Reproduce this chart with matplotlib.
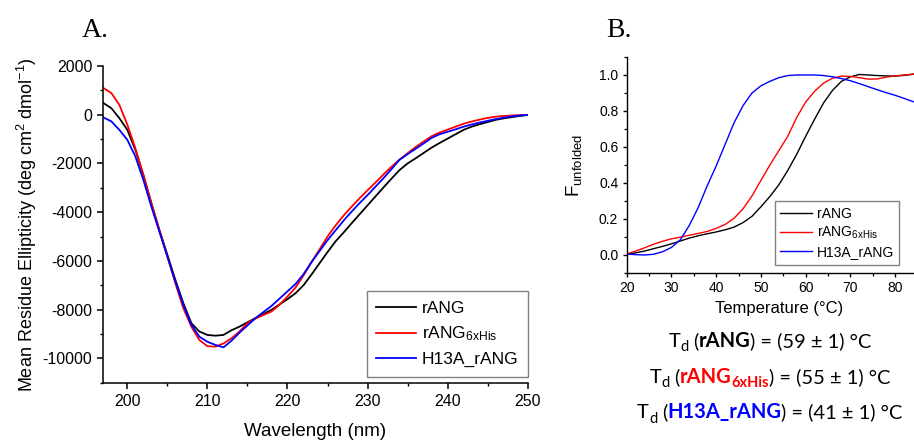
import matplotlib
matplotlib.use('Agg')
import matplotlib.pyplot as plt
from matplotlib.ticker import MultipleLocator, FormatStrFormatter

# ---- data: panel A, far-UV CD spectra ----
wavelength = list(range(197, 251))
mre_rang = [480, 270, -140, -620, -1440, -2470, -3630, -4730, -5750, -6780,
            -7740, -8560, -8900, -9040, -9070, -9040, -8850, -8700, -8520, -8350,
            -8180, -8010, -7790, -7570, -7330, -7000, -6560, -6100, -5640, -5200,
            -4840, -4460, -4090, -3720, -3350, -2980, -2620, -2270, -2000, -1790,
            -1570, -1350, -1160, -980, -800, -620, -490, -390, -300, -210,
            -150, -100, -50, -10]
mre_his = [1100, 890, 410, -410, -1370, -2470, -3630, -4730, -5820, -6920,
           -7950, -8700, -9250, -9500, -9520, -9390, -9180, -8900, -8550, -8370,
           -8220, -8080, -7800, -7460, -7100, -6600, -6050, -5530, -5000, -4550,
           -4140, -3780, -3430, -3100, -2780, -2450, -2130, -1840, -1580, -1330,
           -1100, -880, -730, -610, -490, -370, -280, -200, -130, -80,
           -50, -30, -15, -5]
mre_h13a = [-110, -270, -620, -1030, -1710, -2670, -3770, -4800, -5820, -6850,
            -7810, -8630, -9110, -9320, -9450, -9550, -9280, -8950, -8650, -8350,
            -8100, -7850, -7550, -7250, -6950, -6550, -6050, -5600, -5150, -4750,
            -4350, -3980, -3630, -3300, -2950, -2600, -2230, -1850, -1620, -1400,
            -1180, -950, -800, -700, -600, -490, -400, -320, -250, -180,
            -120, -70, -30, -10]

# ---- data: panel B, thermal unfolding ----
temperature = list(range(20, 88, 2))
f_rang = [0.005, 0.012, 0.022, 0.035, 0.048, 0.062, 0.078, 0.094, 0.107, 0.118,
          0.128, 0.140, 0.155, 0.180, 0.215, 0.268, 0.325, 0.390, 0.470, 0.560,
          0.660, 0.755, 0.845, 0.915, 0.965, 0.990, 1.003, 1.000, 0.997, 0.995,
          0.994, 0.998, 1.004, 1.005]
f_his = [0.005, 0.022, 0.040, 0.060, 0.076, 0.090, 0.099, 0.110, 0.120, 0.131,
         0.148, 0.170, 0.204, 0.257, 0.328, 0.415, 0.500, 0.580, 0.660, 0.765,
         0.850, 0.910, 0.955, 0.982, 0.994, 0.992, 0.985, 0.977, 0.978, 0.988,
         0.995, 1.000, 1.005, 1.005]
f_h13a = [0.005, 0.002, 0.000, 0.004, 0.018, 0.042, 0.085, 0.165, 0.265, 0.385,
          0.495, 0.615, 0.735, 0.830, 0.900, 0.940, 0.965, 0.985, 0.997, 1.000,
          1.000, 1.000, 0.997, 0.990, 0.980, 0.968, 0.952, 0.935, 0.918, 0.902,
          0.887, 0.870, 0.852, 0.835]

labels = ['rANG', 'rANG$_\\mathrm{6xHis}$', 'H13A_rANG']
colors = ['black', '#ff0000', '#0000ff']

plt.rcParams['font.family'] = 'Liberation Sans'
plt.rcParams['axes.unicode_minus'] = False
plt.rcParams['mathtext.fontset'] = 'custom'
plt.rcParams['mathtext.rm'] = 'Liberation Sans'
plt.rcParams['mathtext.it'] = 'Liberation Sans:italic'
plt.rcParams['mathtext.bf'] = 'Liberation Sans:bold'

W, H = 914, 441
fig = plt.figure(figsize=(W / 100, H / 100), dpi=100)


def px(left, bottom, right, top):
    return [left / W, 1 - bottom / H, (right - left) / W, (bottom - top) / H]


# ---------------- panel A ----------------
axA = fig.add_axes(px(103.3, 382.7, 527.7, 66))
for vals, lab, c in zip([mre_rang, mre_his, mre_h13a], labels, colors):
    axA.plot(wavelength, vals, color=c, lw=1.3, label=lab)
axA.set_xlim(197, 250)
axA.set_ylim(-11000, 2000)
axA.xaxis.set_major_locator(MultipleLocator(10))
axA.xaxis.set_minor_locator(MultipleLocator(5))
axA.yaxis.set_major_locator(MultipleLocator(2000))
axA.yaxis.set_minor_locator(MultipleLocator(1000))
for s in ['top', 'right']:
    axA.spines[s].set_visible(False)
for s in ['left', 'bottom']:
    axA.spines[s].set_linewidth(1.1)
axA.tick_params(which='major', direction='out', length=4, width=1.1, labelsize=11.5, pad=4)
axA.tick_params(which='minor', direction='out', length=2.5, width=1.0)
axA.set_xlabel('Wavelength (nm)', fontsize=13.5, labelpad=10)
axA.set_ylabel('Mean Residue Ellipticity (deg cm$^\\mathrm{2}$ dmol$^\\mathrm{-1}$)', fontsize=13)
axA.yaxis.set_label_coords(-0.152, 0.5)
legA = axA.legend(loc='lower right', bbox_to_anchor=(1.0, 0.018), borderaxespad=0,
                  fontsize=12.5, fancybox=False, framealpha=1, edgecolor='#808080',
                  handlelength=2.3, handletextpad=0.3, labelspacing=0.5, borderpad=0.55)
legA.get_frame().set_linewidth(1.0)

# ---------------- panel B ----------------
axB = fig.add_axes(px(626.7, 273, 931, 57))
for vals, lab, c in zip([f_rang, f_his, f_h13a], labels, colors):
    axB.plot(temperature, vals, color=c, lw=1.0, label=lab)
axB.set_xlim(20, 88)
axB.set_ylim(-0.1, 1.1)
axB.xaxis.set_major_locator(MultipleLocator(10))
axB.xaxis.set_minor_locator(MultipleLocator(5))
axB.yaxis.set_major_locator(MultipleLocator(0.2))
axB.yaxis.set_minor_locator(MultipleLocator(0.1))
axB.yaxis.set_major_formatter(FormatStrFormatter('%.1f'))
for s in ['top', 'right']:
    axB.spines[s].set_visible(False)
for s in ['left', 'bottom']:
    axB.spines[s].set_linewidth(1.0)
axB.tick_params(which='major', direction='out', length=3, width=1.0, labelsize=10, pad=3)
axB.tick_params(which='minor', direction='out', length=2, width=0.9)
axB.set_xlabel('Temperature (°C)', fontsize=12, labelpad=4)
axB.set_ylabel('F$_\\mathrm{unfolded}$', fontsize=13.5)
axB.yaxis.set_label_coords(-0.14, 0.5)
legB = axB.legend(loc='upper left', bbox_to_anchor=(0.487, 0.333), borderaxespad=0,
                  fontsize=10, fancybox=False, framealpha=1, edgecolor='#808080',
                  handlelength=2.3, handletextpad=0.3, labelspacing=0.3, borderpad=0.4)
legB.get_frame().set_linewidth(1.0)

# panel letters
fig.text(81.7 / W, 1 - 36.7 / H, 'A.', family='Liberation Serif', fontsize=20, va='baseline')
fig.text(606.7 / W, 1 - 36.7 / H, 'B.', family='Liberation Serif', fontsize=20, va='baseline')

# ---------------- Td annotations ----------------
renderer = fig.canvas.get_renderer()
fs = 14.5
sub_fs = 10.5
sub_dy = 4.5       # px below baseline
gap = 5.0          # px space between T_d and "("
names = ['rANG', 'rANG', 'H13A_rANG']
tds = [59, 55, 41]
baselines = [346.7, 382.7, 418.3]
centre = 770

for name, td, c, yb in zip(names, tds, colors, baselines):
    pieces = [('T', fs, 'normal', 'black', 0, 0),
              ('d', sub_fs, 'normal', 'black', -sub_dy, gap),
              ('(', fs, 'normal', 'black', 0, 0),
              (name, fs, 'bold', c, 0, 0)]
    if name == 'rANG' and c != 'black':
        pieces.append(('6xHis', sub_fs, 'bold', c, -sub_dy, 0))
    pieces.append((') = (%d ± 1) °C' % td, fs, 'normal', 'black', 0, 0))
    arts = []
    total = 0
    for s, size, weight, col, dy, after in pieces:
        t = fig.text(0, 0, s, fontsize=size, fontweight=weight, color=col,
                     family='Lato', va='baseline', ha='left')
        w = t.get_window_extent(renderer).width
        arts.append((t, w, dy, after))
        total += w + after
    x = centre - total / 2
    for t, w, dy, after in arts:
        t.set_position((x / W, 1 - (yb - dy) / H))
        x += w + after

fig.savefig('out.png', dpi=100)
